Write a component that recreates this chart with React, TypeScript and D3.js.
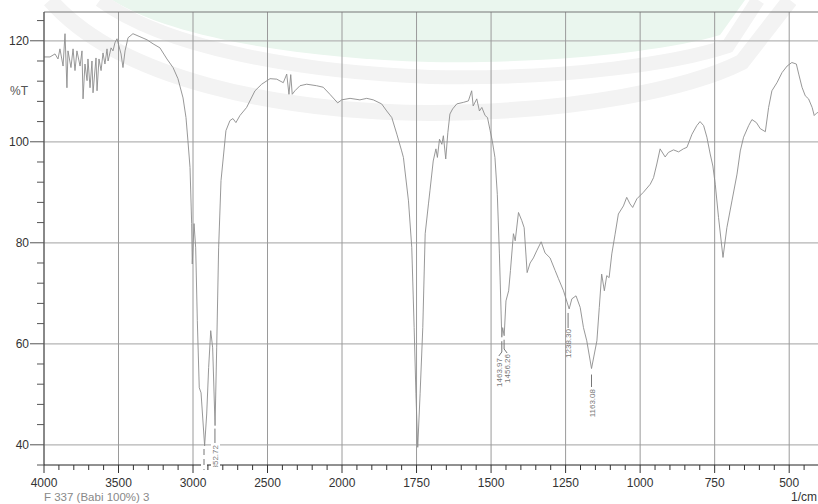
import * as d3 from "d3";

const WIDTH = 818;
const HEIGHT = 504;
const PLOT = { left: 44, right: 818, top: 12, bottom: 465 };

// spectrum (1/cm, %T)
const wavenumber = [
  4000, 3960, 3926, 3906, 3893, 3872, 3859, 3846, 3839, 3819, 3805, 3792, 3779, 3758, 3745, 3738,
  3725, 3711, 3705, 3691, 3678, 3671, 3651, 3644, 3631, 3617, 3604, 3591, 3577, 3570, 3550, 3537,
  3524, 3510, 3503, 3483, 3470, 3456, 3436, 3403, 3356, 3309, 3268, 3222, 3175, 3134, 3101, 3067,
  3047, 3034, 3020, 3009, 3005, 2993, 2982, 2971, 2958, 2946, 2922, 2908, 2895, 2881, 2868, 2852,
  2841, 2828, 2812, 2779, 2752, 2732, 2712, 2685, 2640, 2584, 2539, 2483, 2438, 2394, 2371, 2356,
  2344, 2334, 2316, 2282, 2237, 2170, 2126, 2081, 2029, 2002, 1973, 1940, 1917, 1895, 1867, 1850,
  1833, 1816, 1800, 1794, 1777, 1766, 1758, 1752, 1746, 1738, 1729, 1721, 1710, 1705, 1694, 1685,
  1680, 1673, 1665, 1660, 1652, 1645, 1638, 1629, 1615, 1593, 1576, 1565, 1560, 1548, 1539, 1531,
  1520, 1512, 1503, 1496, 1487, 1479, 1472, 1464, 1461, 1456, 1450, 1441, 1435, 1425, 1419, 1408,
  1397, 1389, 1379, 1369, 1358, 1347, 1332, 1319, 1302, 1285, 1274, 1257, 1238, 1229, 1215, 1201,
  1190, 1179, 1163, 1145, 1137, 1129, 1120, 1112, 1104, 1095, 1084, 1073, 1056, 1045, 1034, 1025,
  1011, 989, 966, 955, 944, 933, 916, 905, 888, 871, 855, 843, 826, 810, 799, 787,
  776, 765, 756, 748, 737, 722, 709, 692, 675, 664, 653, 636, 625, 610, 597, 580,
  569, 558, 541, 524, 507, 491, 476, 468, 457, 446, 435, 423, 416, 406, 400,
];
const transmittance = [
  116.8, 116.8, 117.4, 116.4, 118.4, 115.0, 121.4, 110.7, 118.0, 114.7, 118.4, 114.1, 118.0, 115.0, 118.0, 108.5,
  115.4, 112.1, 116.4, 110.7, 116.0, 109.7, 116.6, 110.1, 116.4, 114.1, 117.6, 115.4, 118.4, 116.0, 118.6, 118.0,
  119.6, 120.4, 119.6, 117.4, 114.7, 118.0, 120.6, 121.4, 120.8, 120.2, 119.4, 118.6, 116.4, 114.7, 112.5, 108.7,
  104.8, 100.2, 94.9, 83.8, 75.8, 83.8, 79.0, 64.6, 51.3, 50.3, 39.8, 46.1, 55.3, 62.6, 59.2, 43.8,
  59.2, 79.0, 92.3, 102.2, 104.2, 104.6, 103.8, 105.2, 106.8, 110.1, 111.4, 112.5, 112.4, 111.7, 113.4, 109.4,
  113.3, 109.4, 110.1, 111.1, 111.4, 111.1, 110.8, 109.4, 107.7, 108.3, 108.6, 108.3, 108.6, 108.3, 107.5, 106.1,
  104.8, 101.5, 98.2, 96.9, 88.3, 79.1, 63.2, 50.1, 39.5, 50.1, 63.2, 81.8, 87.7, 90.3, 96.2, 98.6,
  96.9, 100.5, 99.5, 101.2, 96.6, 101.8, 105.5, 106.5, 107.5, 107.8, 108.1, 110.1, 107.1, 108.5, 106.1, 106.8,
  105.2, 104.8, 102.2, 100.2, 96.9, 89.6, 77.8, 61.3, 63.2, 61.6, 68.5, 70.5, 74.5, 81.8, 80.4, 86.0,
  84.4, 83.0, 74.1, 76.0, 77.0, 78.4, 80.2, 78.0, 77.0, 74.5, 72.9, 70.5, 66.9, 68.9, 69.5, 67.2,
  63.2, 60.6, 55.1, 60.6, 67.2, 73.8, 70.5, 73.5, 73.1, 77.8, 81.7, 85.7, 87.3, 89.0, 87.7, 87.0,
  88.7, 90.0, 91.6, 92.9, 95.6, 98.6, 97.0, 97.9, 98.4, 98.0, 98.6, 98.9, 101.5, 103.2, 104.0, 103.2,
  100.9, 97.6, 95.2, 91.6, 85.0, 77.1, 83.0, 88.3, 93.6, 98.2, 100.9, 103.2, 104.4, 103.8, 102.6, 102.0,
  106.8, 110.1, 111.7, 113.7, 115.0, 115.7, 115.4, 113.4, 110.8, 109.1, 108.5, 106.8, 105.2, 105.8, 105.6,
];

// labelled peaks
const peakWavenumber = [2852.72, 1463.97, 1456.26, 1238.3, 1163.08];
const peakValue = [43.8, 61.3, 61.6, 66.9, 55.1];

const xMajorTicks = [4000, 3500, 3000, 2500, 2000, 1750, 1500, 1250, 1000, 750, 500];
const yMajorTicks = [40, 60, 80, 100, 120];

const FONT = "'Liberation Sans', Arial, sans-serif";
const LINE_COLOR = "#8c8c8c";
const GRID_COLOR = "#b4b4b4";

export default function App() {
  // the x axis is compressed above 2000 1/cm, like the instrument software does
  const x = d3.scaleLinear().domain([4000, 2000, 400]).range([PLOT.left, 342, 819]);
  const y = d3.scaleLinear().domain([36, 125.7]).range([PLOT.bottom, PLOT.top]);

  const points: [number, number][] = wavenumber.map((w, i) => [w, transmittance[i]]);
  const linePath = d3
    .line<[number, number]>()
    .x((d) => x(d[0]))
    .y((d) => y(d[1]))(points);

  const xMinor = [...d3.range(4000, 2000, -100), ...d3.range(2000, 400, -50)].filter(
    (v) => !xMajorTicks.includes(v)
  );
  const yMinor = d3.range(36, 126, 4).filter((v) => !yMajorTicks.includes(v));

  const [p2852, p1464, p1456, p1238, p1163] = peakWavenumber.map((w, i) => ({
    x: x(w),
    y: y(peakValue[i]),
    label: w.toFixed(2),
  }));

  return (
    <div style={{ position: "absolute", left: 0, top: 0 }}>
      <svg width={WIDTH} height={HEIGHT} style={{ display: "block", background: "#fff" }}>
        <defs>
          <clipPath id="plotClip">
            <rect x={PLOT.left} y={PLOT.top} width={PLOT.right - PLOT.left} height={PLOT.bottom - PLOT.top} />
          </clipPath>
          <clipPath id="labelClip">
            <rect x={200} y={430} width={30} height={37} />
          </clipPath>
        </defs>

        {/* faint logo watermark behind the chart */}
        <g>
          <path d="M112,0 C172,38 300,58 430,62 C560,64 670,50 720,35 L745,0 Z" fill="#eaf6ee" />
          <path
            d="M100,0 C165,48 300,72 430,77 C570,80 680,62 728,46 L758,0"
            fill="none"
            stroke="#f3f3f3"
            strokeWidth={14}
          />
          <path
            d="M50,0 C120,80 280,112 430,113 C580,112 690,88 742,62 L790,0"
            fill="none"
            stroke="#f3f3f3"
            strokeWidth={16}
          />
        </g>

        {/* grid */}
        {yMajorTicks.map((v) => (
          <line key={`gy${v}`} x1={PLOT.left} x2={PLOT.right} y1={y(v)} y2={y(v)} stroke={GRID_COLOR} strokeWidth={1.3} />
        ))}
        {xMajorTicks.map((v) => (
          <line key={`gx${v}`} x1={x(v)} x2={x(v)} y1={PLOT.top} y2={PLOT.bottom} stroke="#9a9a9a" strokeWidth={1} />
        ))}
        <line x1={PLOT.left} x2={PLOT.right} y1={PLOT.top} y2={PLOT.top} stroke="#777" strokeWidth={1} />

        {/* spectrum */}
        <path d={linePath ?? ""} fill="none" stroke={LINE_COLOR} strokeWidth={0.9} clipPath="url(#plotClip)" />

        {/* y axis */}
        <line x1={PLOT.left} x2={PLOT.left} y1={PLOT.top} y2={PLOT.bottom} stroke="#444" strokeWidth={1} />
        {yMajorTicks.map((v) => (
          <g key={`ty${v}`}>
            <line x1={30} x2={PLOT.left} y1={y(v)} y2={y(v)} stroke="#555" strokeWidth={1} />
            <text x={29} y={y(v) + 4} textAnchor="end" fontSize={12} fontFamily={FONT} fill="#333">
              {v}
            </text>
          </g>
        ))}
        {yMinor.map((v) => (
          <line key={`my${v}`} x1={37} x2={PLOT.left} y1={y(v)} y2={y(v)} stroke="#555" strokeWidth={1} />
        ))}
        <text x={10} y={95} fontSize={12} fontFamily={FONT} fill="#555">
          %T
        </text>

        {/* x axis */}
        <line x1={PLOT.left} x2={PLOT.right} y1={PLOT.bottom} y2={PLOT.bottom} stroke="#222" strokeWidth={1} />
        {xMajorTicks.map((v) => (
          <g key={`tx${v}`}>
            <line x1={x(v)} x2={x(v)} y1={PLOT.bottom} y2={PLOT.bottom + 8} stroke="#333" strokeWidth={1} />
            <text x={x(v)} y={487} textAnchor="middle" fontSize={12} fontFamily={FONT} fill="#333">
              {v}
            </text>
          </g>
        ))}
        {xMinor.map((v) => (
          <line key={`mx${v}`} x1={x(v)} x2={x(v)} y1={PLOT.bottom} y2={PLOT.bottom + 5} stroke="#333" strokeWidth={1} />
        ))}
        <text x={817} y={501} textAnchor="end" fontSize={12} fontFamily={FONT} fill="#333">
          1/cm
        </text>
        <text x={44} y={501} fontSize={11.5} fontFamily={FONT} fill="#888">
          F 337 (Babi 100%) 3
        </text>

        {/* peak labels */}
        <g fontFamily={FONT} fontSize={8} fill="#777">
          {/* 2920 peak: label hidden below the axis, only its dashed leader shows */}
          <rect x={201} y={446} width={6} height={28} fill="#fff" />
          <line x1={204} x2={204} y1={449} y2={470} stroke="#777" strokeDasharray="6,4" />
          <rect x={211} y={442} width={9} height={28} fill="#fff" />
          <line x1={p2852.x} x2={p2852.x} y1={p2852.y + 3} y2={443} stroke="#777" />
          <g clipPath="url(#labelClip)">
            <text transform={`translate(${p2852.x + 3},445) rotate(-90)`} textAnchor="end">
              {p2852.label}
            </text>
          </g>

          <polyline
            points={`${p1464.x},${p1464.y + 4} ${p1464.x},${352} ${p1464.x - 3},${356}`}
            fill="none"
            stroke="#777"
          />
          <text transform={`translate(${p1464.x},358) rotate(-90)`} textAnchor="end">
            {p1464.label}
          </text>
          <polyline
            points={`${p1456.x},${p1456.y + 4} ${p1456.x},${349} ${p1456.x + 3},${353}`}
            fill="none"
            stroke="#777"
          />
          <text transform={`translate(${p1456.x + 6},354) rotate(-90)`} textAnchor="end">
            {p1456.label}
          </text>

          <line x1={p1238.x - 1} x2={p1238.x - 1} y1={p1238.y + 4} y2={328} stroke="#777" />
          <text transform={`translate(${p1238.x + 2},329) rotate(-90)`} textAnchor="end">
            {p1238.label}
          </text>

          <line x1={p1163.x} x2={p1163.x} y1={p1163.y + 6} y2={387} stroke="#777" />
          <text transform={`translate(${p1163.x + 3},389) rotate(-90)`} textAnchor="end">
            {p1163.label}
          </text>
        </g>
      </svg>
    </div>
  );
}
